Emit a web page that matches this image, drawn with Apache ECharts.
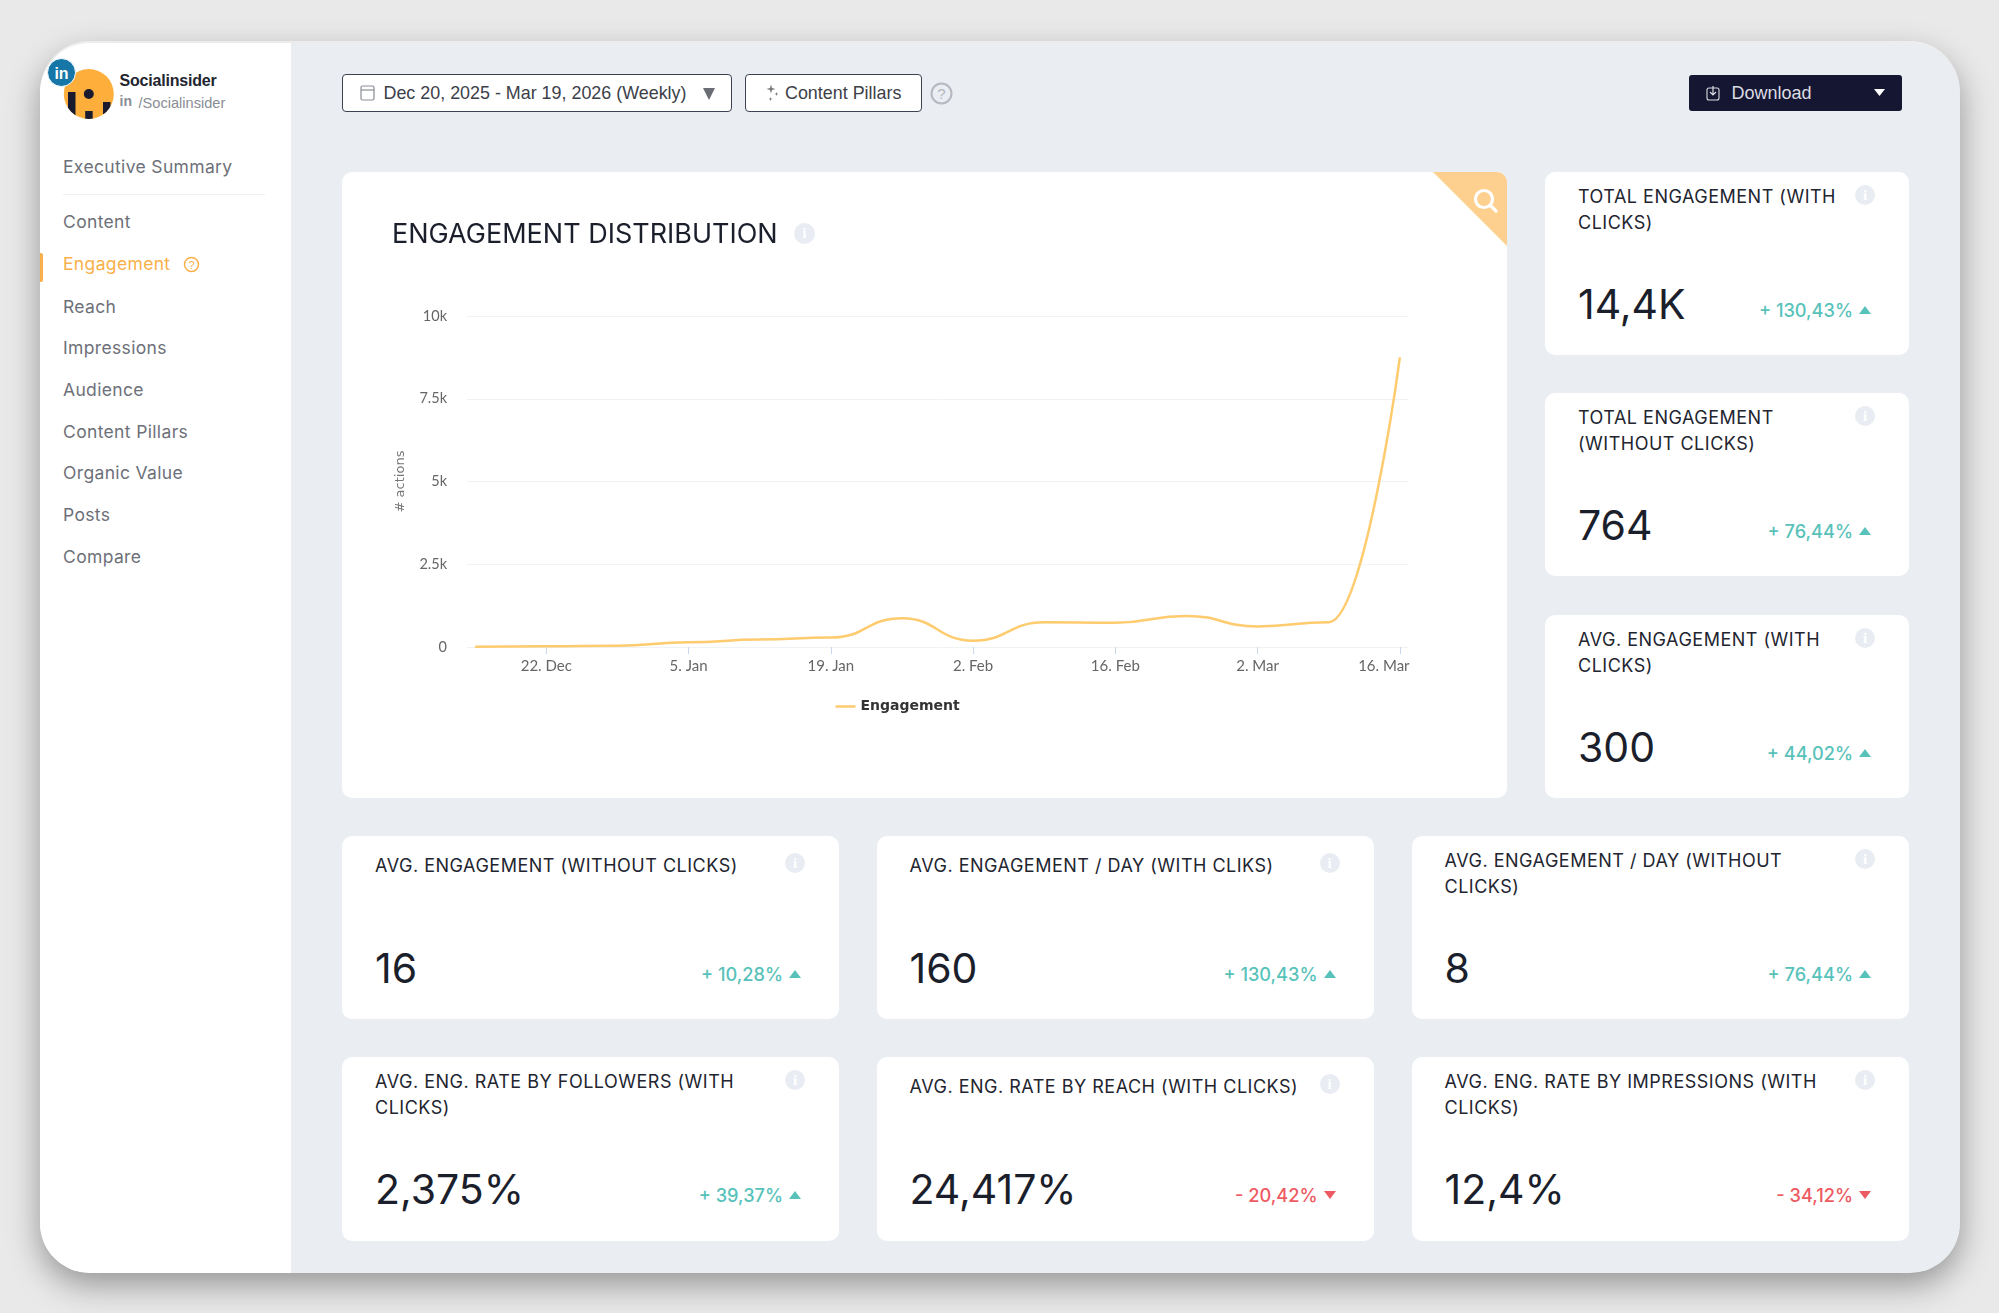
<!DOCTYPE html>
<html>
<head>
<meta charset="utf-8">
<title>Engagement Distribution</title>
<script src="https://cdn.jsdelivr.net/npm/echarts@6/dist/echarts.min.js"></script>
<style>
  html, body { margin: 0; padding: 0; }
  body { width: 1999px; height: 1313px; background: #e9e9e9; overflow: hidden; position: relative; font-family: Inter, sans-serif; }
  .frame { position: absolute; left: 39.5px; top: 42.5px; width: 1920.5px; height: 1230px; background: #eaedf2; border-radius: 50px; box-shadow: 0 12px 32px rgba(0,0,0,.36), 0 -2px 0 #fff; overflow: hidden; }
  .side { position: absolute; left: 0; top: 0; width: 251.5px; height: 100%; background: #fff; }
  .abs { position: absolute; }
  .nav { position: absolute; font-size: 17.5px; letter-spacing: .35px; color: #6d7079; line-height: 20px; margin-top: -10px; white-space: nowrap; }
  .nav.active { color: #f9b04a; }
  .btn { position: absolute; box-sizing: border-box; background: #fff; border: 1.5px solid #3c4252; border-radius: 4px; font-family: "Liberation Sans", sans-serif; font-size: 17.9px; color: #3c4049; line-height: 37px; white-space: nowrap; }
  .card { position: absolute; background: #fff; border-radius: 10px; }
  .kpi-title { position: absolute; left: 33px; top: 12px; font-size: 18px; letter-spacing: .5px; line-height: 25.5px; color: #22252f; white-space: pre-line; }
  .kpi-title.single { top: 17px; }
  .kpi-info { position: absolute; width: 20px; height: 20px; border-radius: 50%; background: #e9edf3; color: #fff; font: bold 15px/20px "Liberation Serif", serif; text-align: center; right: 34px; top: 13px; }
  .kpi-info.single { top: 17px; }
  .kpi-value { position: absolute; left: 33px; top: 108px; font-size: 41px; line-height: 48px; color: #1b1e2b; }
  .kpi-change { position: absolute; right: 56px; top: 126px; font-size: 18.2px; font-weight: 500; line-height: 24px; white-space: nowrap; }
  .kpi-tri { position: absolute; right: 38px; top: 134px; width: 0; height: 0; border-left: 6.5px solid transparent; border-right: 6.5px solid transparent; }
  .up { color: #58c2ba; }
  .down { color: #ee5a62; }
  .kpi-tri.up { border-bottom: 8px solid #58c2ba; }
  .kpi-tri.down { border-top: 8px solid #ee5a62; }
  #chart { position: absolute; left: 0; top: 0; width: 1165px; height: 626px; }
</style>
</head>
<body>
<div class="frame" id="frame">
  <div class="side" id="side"></div>
</div>
<div class="btn" style="left:342px;top:74px;width:390px;height:38px;padding-left:40.5px">Dec 20, 2025 - Mar 19, 2026 (Weekly)
  <svg class="abs" style="left:17px;top:9px" width="15" height="17" viewBox="0 0 15 17"><rect x="1" y="2" width="13" height="14" rx="1.5" fill="none" stroke="#8a8d94" stroke-width="1.2"/><line x1="1" y1="6" x2="14" y2="6" stroke="#8a8d94" stroke-width="1.2"/></svg>
  <svg class="abs" style="left:360px;top:13px" width="12" height="12"><path d="M0 0H12L6 12Z" fill="#6a6d74"/></svg>
</div>
<div class="btn" style="left:745px;top:74px;width:177px;height:38px;padding-left:39px">Content Pillars
  <svg class="abs" style="left:18px;top:8px" width="16" height="20"><path d="M7 1.5L8 5L11.5 6L8 7L7 10.5L6 7L2.5 6L6 5Z M12.5 9L13 10.5L14.5 11L13 11.5L12.5 13L12 11.5L10.5 11L12 10.5Z M6.5 14L7 15.5L8.5 16L7 16.5L6.5 18L6 16.5L4.5 16L6 15.5Z" fill="#777"/></svg>
</div>
<svg class="abs" style="left:930px;top:82px" width="23" height="23"><circle cx="11.5" cy="11.5" r="10" fill="none" stroke="#b5b8be" stroke-width="2"/><text x="11.5" y="17" text-anchor="middle" font-family="Liberation Sans" font-size="15" fill="#b5b8be">?</text></svg>
<div class="abs" style="left:1688.5px;top:75px;width:213px;height:36px;background:#151632;border-radius:3px;font-family:'Liberation Sans',sans-serif;font-size:18px;line-height:36px;color:#dcdce2">
  <span class="abs" style="left:43px">Download</span>
  <svg class="abs" style="left:17px;top:10px" width="14" height="16"><rect x="1" y="3" width="12" height="12" rx="2" fill="none" stroke="#dcdce2" stroke-width="1.1"/><path d="M7 1V10M4 7L7 10L10 7" fill="none" stroke="#dcdce2" stroke-width="1.2"/></svg>
  <svg class="abs" style="left:185px;top:14px" width="11" height="8"><path d="M0 0H11L5.5 7Z" fill="#fff"/></svg>
</div>

<div class="card" style="left:342px;top:172px;width:1165px;height:626px;overflow:hidden">
  <div id="chart"></div>
  <svg class="abs" style="right:0;top:0" width="74" height="74">
    <path d="M0 0H74V74Z" fill="#fdd08f"/>
    <circle cx="51" cy="27" r="8.5" fill="none" stroke="#fff" stroke-width="3.2"/>
    <line x1="57" y1="33" x2="63" y2="39" stroke="#fff" stroke-width="3.2" stroke-linecap="round"/>
  </svg>
  <div class="kpi-info" style="left:452px;top:51px;right:auto;width:21px;height:21px;line-height:21px">i</div>
</div>
<div id="kpis"></div>

<script>
// line chart values
const weeks = ["2025-12-15", "2025-12-22", "2025-12-29", "2026-01-05", "2026-01-12", "2026-01-19", "2026-01-26",
  "2026-02-02", "2026-02-09", "2026-02-16", "2026-02-23", "2026-03-02", "2026-03-09", "2026-03-16"];
const engagement = [10, 20, 35, 140, 225, 285, 870, 190, 750, 735, 940, 620, 750, 8750];
const xTickDates = ["2025-12-22", "2026-01-05", "2026-01-19", "2026-02-02", "2026-02-16", "2026-03-02", "2026-03-16"];
const xTickLabels = ["22. Dec", "5. Jan", "19. Jan", "2. Feb", "16. Feb", "2. Mar", "16. Mar"];
const yTickLabels = ["0", "2.5k", "5k", "7.5k", "10k"];

// kpi cards
const kpiTitles = [
  "TOTAL ENGAGEMENT (WITH\nCLICKS)", "TOTAL ENGAGEMENT\n(WITHOUT CLICKS)", "AVG. ENGAGEMENT (WITH\nCLICKS)",
  "AVG. ENGAGEMENT (WITHOUT CLICKS)", "AVG. ENGAGEMENT / DAY (WITH CLIKS)", "AVG. ENGAGEMENT / DAY (WITHOUT\nCLICKS)",
  "AVG. ENG. RATE BY FOLLOWERS (WITH\nCLICKS)", "AVG. ENG. RATE BY REACH (WITH CLICKS)", "AVG. ENG. RATE BY IMPRESSIONS (WITH\nCLICKS)"
];
const kpiValues = ["14,4K", "764", "300", "16", "160", "8", "2,375%", "24,417%", "12,4%"];
const kpiChanges = ["+ 130,43%", "+ 76,44%", "+ 44,02%", "+ 10,28%", "+ 130,43%", "+ 76,44%", "+ 39,37%", "- 20,42%", "- 34,12%"];

const navItems = ["Executive Summary", "Content", "Engagement", "Reach", "Impressions", "Audience", "Content Pillars", "Organic Value", "Posts", "Compare"];
const accountName = "Socialinsider";
const accountHandle = "/Socialinsider";

// card slots on the page, same order as the kpi arrays
const kpiBoxes = [
  [1545, 172, 364, 183], [1545, 393, 364, 183], [1545, 615, 364, 183],
  [342, 836, 497, 183], [876.5, 836, 497, 183], [1411.5, 836, 497.5, 183],
  [342, 1057, 497, 184], [876.5, 1057, 497, 184], [1411.5, 1057, 497.5, 184]
];
const navCenters = [166.9, 222, 264, 306.5, 348, 390, 432, 473, 515, 557];

function renderKpis() {
  document.getElementById("kpis").innerHTML = kpiTitles.map((title, i) => {
    const [left, top, width, height] = kpiBoxes[i];
    const dir = kpiChanges[i].startsWith("-") ? "down" : "up";
    const single = title.includes("\n") ? "" : "single";
    return `<div class="card" style="left:${left}px;top:${top}px;width:${width}px;height:${height}px">
      <div class="kpi-title ${single}">${title}</div>
      <div class="kpi-info ${single}">i</div>
      <div class="kpi-value">${kpiValues[i]}</div>
      <div class="kpi-change ${dir}">${kpiChanges[i]}</div>
      <div class="kpi-tri ${dir}"></div>
    </div>`;
  }).join("");
}

function renderSidebar() {
  const side = document.getElementById("side");
  let html = `
    <svg class="abs" style="left:0;top:0" width="110" height="90">
      <defs><clipPath id="logoClip"><circle cx="48.8" cy="51" r="25"/></clipPath></defs>
      <circle cx="48.8" cy="51" r="25" fill="#fdae3b"/>
      <g clip-path="url(#logoClip)" fill="#1b1b2f">
        <circle cx="48.8" cy="51" r="5"/>
        <rect x="28" y="49" width="7.5" height="24"/>
        <rect x="45.2" y="68" width="7.5" height="10"/>
        <rect x="63" y="59" width="7.5" height="12"/>
      </g>
      <circle cx="21.5" cy="29.5" r="14" fill="#1676a8" stroke="#fff" stroke-width="1"/>
      <text x="21.5" y="35.5" text-anchor="middle" font-family="Liberation Sans" font-weight="bold" font-size="16" fill="#fff">in</text>
    </svg>
    <div class="abs" style="left:80px;top:27px;font:bold 16px/22px 'Liberation Sans',sans-serif;color:#22252f;letter-spacing:-.2px">${accountName}</div>
    <div class="abs" style="left:80px;top:48px;font:bold 14px/20px 'Liberation Sans',sans-serif;color:#8a8d94">in</div>
    <div class="abs" style="left:99px;top:50px;font:14.6px/20px 'Liberation Sans',sans-serif;color:#8a8d94">${accountHandle}</div>
    <div class="abs" style="left:23.5px;top:151px;width:202px;height:1px;background:#eef0f3"></div>
    <div class="abs" style="left:0;top:210px;width:3px;height:29px;background:#f9b04a;border-radius:0 2px 2px 0"></div>`;
  navItems.forEach((name, i) => {
    const cls = name === "Engagement" ? "nav active" : "nav";
    html += `<div class="${cls}" style="left:23.5px;top:${navCenters[i] - 42.5}px">${name}</div>`;
  });
  html += `<svg class="abs" style="left:143px;top:213px" width="17" height="17"><circle cx="8.5" cy="8.5" r="7" fill="none" stroke="#f9b04a" stroke-width="1.5"/><text x="8.5" y="13" text-anchor="middle" font-family="Liberation Sans" font-size="11" fill="#f9b04a">?</text></svg>`;
  side.innerHTML = html;
}

function renderChart() {
  const toMs = (d) => Date.parse(d + "T00:00:00Z");
  const tickMs = xTickDates.map(toMs);
  const day = 86400000;
  const chart = echarts.init(document.getElementById("chart"));
  chart.setOption({
    animation: false,
    title: {
      text: "ENGAGEMENT DISTRIBUTION",
      left: 45,
      top: 44,
      textStyle: { fontFamily: "Inter", fontSize: 27, fontWeight: 400, color: "#1b1e2b" }
    },
    legend: {
      left: 488.5,
      top: 522.5,
      icon: "rect",
      itemWidth: 20,
      itemHeight: 2.5,
      itemGap: 6,
      textStyle: { fontFamily: "DejaVu Sans", fontSize: 14, fontWeight: "bold", color: "#333" }
    },
    grid: { left: 125, right: 99, top: 144, bottom: 151 },
    xAxis: {
      type: "value",
      min: toMs(weeks[0]) - 0.8 * day,
      max: toMs(weeks[weeks.length - 1]) + 0.8 * day,
      splitLine: { show: false },
      axisLine: { show: false },
      axisTick: { show: true, length: 7, lineStyle: { color: "#ccd6eb" }, customValues: tickMs },
      axisLabel: {
        customValues: tickMs,
        margin: 12,
        color: "#666",
        fontFamily: "Lato",
        fontSize: 15,
        rich: { last: { padding: [0, 32, 0, 0], color: "#666", fontFamily: "Lato", fontSize: 15 } },
        formatter: (v) => {
          const i = tickMs.indexOf(v);
          if (i === tickMs.length - 1) return "{last|" + xTickLabels[i] + "}";
          return xTickLabels[i] || "";
        }
      }
    },
    yAxis: {
      type: "value",
      min: 0,
      max: 10000,
      interval: 2500,
      name: "# actions",
      nameLocation: "middle",
      nameGap: 60,
      nameRotate: 90,
      nameTextStyle: { fontFamily: "DejaVu Sans", fontSize: 13, color: "#777" },
      axisLine: { show: false },
      axisTick: { show: false },
      splitLine: { lineStyle: { color: "#f1f2f4", width: 1 } },
      axisLabel: {
        margin: 20,
        color: "#666",
        fontFamily: "Lato",
        fontSize: 14.5,
        formatter: (v) => yTickLabels[v / 2500]
      }
    },
    series: [{
      name: "Engagement",
      type: "line",
      data: weeks.map((d, i) => [toMs(d), engagement[i]]),
      smooth: 0.5,
      smoothMonotone: "x",
      showSymbol: false,
      lineStyle: { color: "#fecb6e", width: 2.5 },
      itemStyle: { color: "#fecb6e" }
    }]
  });
}

renderSidebar();
renderKpis();
renderChart();
</script>
</body>
</html>
